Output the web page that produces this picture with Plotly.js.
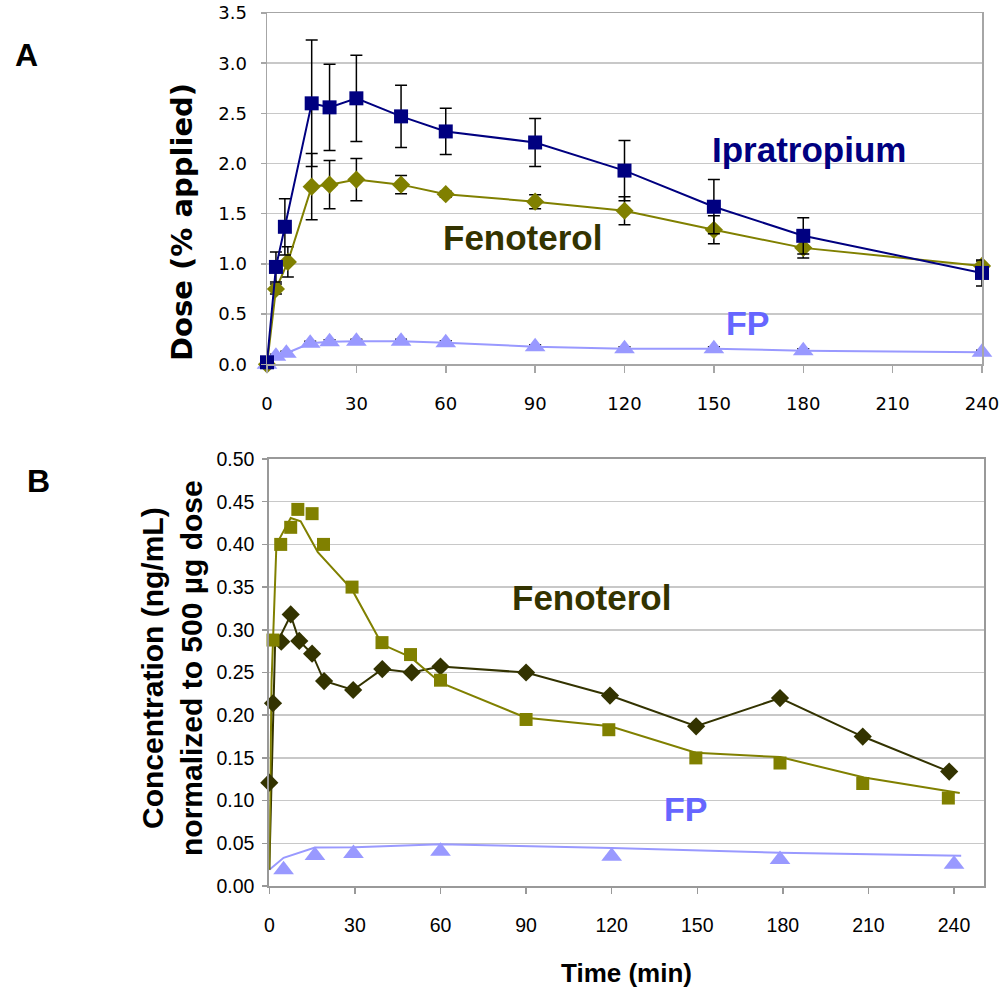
<!DOCTYPE html>
<html>
<head>
<meta charset="utf-8">
<script src="https://cdn.plot.ly/plotly-3.0.1.min.js"></script>
<style>html,body{margin:0;padding:0;background:#fff;}#chart{width:1003px;height:991px;}</style>
</head>
<body>
<div id="chart"></div>
<script>
// ---------- Panel A data: dose (% applied) ----------
var timeIpraA = [0, 3, 6, 15, 21, 30, 45, 60, 90, 120, 150, 180, 240];
var ipratropiumA = [0.02, 0.97, 1.37, 2.60, 2.56, 2.65, 2.47, 2.32, 2.21, 1.93, 1.57, 1.28, 0.91];
var ipratropiumErrA = [0, 0.15, 0.28, 0.63, 0.43, 0.43, 0.31, 0.23, 0.24, 0.30, 0.27, 0.18, 0.13];

var timeFenoA = [0, 3, 7, 15, 21, 30, 45, 60, 90, 120, 150, 180, 240];
var fenoterolA = [0.0, 0.75, 1.02, 1.77, 1.79, 1.84, 1.79, 1.695, 1.62, 1.53, 1.34, 1.16, 0.98];
var fenoterolErrA = [0, 0.05, 0.15, 0.33, 0.24, 0.21, 0.09, 0.03, 0.07, 0.14, 0.14, 0.10, 0.05];

var timeFpA = [0, 3, 6.5, 14.5, 21, 30, 45, 60, 90, 120, 150, 180, 240];
var fpA = [0.0, 0.08, 0.11, 0.21, 0.225, 0.23, 0.23, 0.215, 0.175, 0.155, 0.155, 0.135, 0.12];
var fpErrA = [0, 0.02, 0.02, 0.02, 0.02, 0.02, 0.02, 0.02, 0.02, 0.02, 0.02, 0.02, 0.02];

// ---------- Panel B data: plasma concentration ----------
var timeFenoSqB = [1.3, 4, 7.5, 10, 15, 19, 29, 39.5, 49.5, 60, 90, 119, 149.5, 179, 208, 238];
var fenoSqB = [0.288, 0.400, 0.420, 0.441, 0.436, 0.400, 0.350, 0.285, 0.271, 0.241, 0.195, 0.183, 0.150, 0.144, 0.120, 0.103];
var lineFenoSqT = [0, 0.8, 2.5, 7.5, 11, 17, 29, 39.5, 49.5, 60, 90, 119.5, 149.5, 179, 208.5, 242];
var lineFenoSqY = [0.019, 0.24, 0.40, 0.431, 0.427, 0.391, 0.347, 0.283, 0.268, 0.238, 0.197, 0.187, 0.156, 0.151, 0.127, 0.109];

var timeFenoDiB = [0, 1.3, 4.2, 7.5, 10.5, 15, 19.2, 29.4, 39.6, 49.9, 60, 90, 119.4, 149.6, 179, 208, 238.3];
var fenoDiB = [0.121, 0.214, 0.286, 0.318, 0.287, 0.272, 0.240, 0.2295, 0.254, 0.250, 0.257, 0.250, 0.223, 0.187, 0.220, 0.175, 0.134];
var lineFenoDiT = [0, 1.3, 2, 7.5, 10.5, 15, 19.2, 29.4, 39.6, 49.9, 60, 90, 119.4, 149.6, 179, 208, 238.3];
var lineFenoDiY = [0.019, 0.214, 0.28, 0.317, 0.287, 0.272, 0.240, 0.2295, 0.254, 0.250, 0.257, 0.250, 0.223, 0.187, 0.220, 0.175, 0.134];

var timeFpB = [5, 16, 29.5, 60, 120, 179, 240];
var fpB = [0.019, 0.0357, 0.038, 0.0408, 0.0347, 0.031, 0.0256];
var lineFpT = [0, 5, 16, 30, 60, 120, 179, 242.5];
var lineFpY = [0.019, 0.033, 0.045, 0.0455, 0.0488, 0.0445, 0.039, 0.0355];

var xTicks = [0, 30, 60, 90, 120, 150, 180, 210, 240];

// ---------- colours ----------
var NAVY = '#000080', OLIVE = '#808000', DARK = '#333300', LILAC = '#9999FF';

function errBar(arr) {
  return {type: 'data', array: arr, visible: true, color: '#000000', thickness: 1.5, width: 6};
}

var traces = [
  // Panel A
  {x: timeFpA, y: fpA, xaxis: 'x', yaxis: 'y', mode: 'lines+markers', cliponaxis: false,
   line: {color: LILAC, width: 2}, marker: {symbol: 'triangle-up', size: 18, color: LILAC},
   error_y: errBar(fpErrA)},
  {x: timeFenoA, y: fenoterolA, xaxis: 'x', yaxis: 'y', mode: 'lines+markers', cliponaxis: false,
   line: {color: OLIVE, width: 2}, marker: {symbol: 'diamond', size: 14, color: OLIVE},
   error_y: errBar(fenoterolErrA)},
  {x: timeIpraA, y: ipratropiumA, xaxis: 'x', yaxis: 'y', mode: 'lines+markers', cliponaxis: false,
   line: {color: NAVY, width: 2}, marker: {symbol: 'square', size: 14, color: NAVY},
   error_y: errBar(ipratropiumErrA)},
  // Panel B lines
  {x: lineFpT, y: lineFpY, xaxis: 'x2', yaxis: 'y2', mode: 'lines', cliponaxis: false,
   line: {color: LILAC, width: 2}},
  {x: lineFenoDiT, y: lineFenoDiY, xaxis: 'x2', yaxis: 'y2', mode: 'lines', cliponaxis: false,
   line: {color: DARK, width: 2}},
  {x: lineFenoSqT, y: lineFenoSqY, xaxis: 'x2', yaxis: 'y2', mode: 'lines', cliponaxis: false,
   line: {color: OLIVE, width: 2}},
  // Panel B markers
  {x: timeFpB, y: fpB, xaxis: 'x2', yaxis: 'y2', mode: 'markers', cliponaxis: false,
   marker: {symbol: 'triangle-up', size: 18, color: LILAC}},
  {x: timeFenoDiB, y: fenoDiB, xaxis: 'x2', yaxis: 'y2', mode: 'markers', cliponaxis: false,
   marker: {symbol: 'diamond', size: 14, color: DARK}},
  {x: timeFenoSqB, y: fenoSqB, xaxis: 'x2', yaxis: 'y2', mode: 'markers', cliponaxis: false,
   marker: {symbol: 'square', size: 13, color: OLIVE}}
];

// pixel helpers (plot area: x 267..984, y 13..886)
var L = 267, R = 19, T = 13, B = 105, W = 1003, H = 991;
var PW = W - L - R, PH = H - T - B;
function px(x) { return (x - L) / PW; }
function py(y) { return (H - B - y) / PH; }

var wide = '"DejaVu Sans", Verdana, sans-serif';
var arial = '"Liberation Sans", Arial, sans-serif';

var axA = {showline: true, linecolor: '#a6a6a6', linewidth: 1.5, mirror: true,
           ticks: 'outside', tickcolor: '#a6a6a6', tickwidth: 1.5, zeroline: false,
           ticklabeloverflow: 'allow',
           tickfont: {family: wide, size: 18, color: '#000'}};
var axB = {showline: true, linecolor: '#999999', linewidth: 2, mirror: true,
           ticks: 'outside', tickcolor: '#999999', tickwidth: 1.5, zeroline: false,
           ticklabeloverflow: 'allow',
           tickfont: {family: arial, size: 19.5, color: '#000'}};

var layout = {
  width: W, height: H,
  margin: {l: L, r: R, t: T, b: B, pad: 0},
  paper_bgcolor: '#ffffff', plot_bgcolor: '#ffffff',
  showlegend: false,
  xaxis: Object.assign({}, axA, {domain: [0, 715 / PW], range: [0, 240], tickvals: xTicks,
    ticklen: 7, ticklabelstandoff: 16, showgrid: false, anchor: 'y'}),
  yaxis: Object.assign({}, axA, {domain: [py(364.3), 1], range: [0, 3.5], dtick: 0.5, tickformat: '.1f',
    ticklen: 5, ticklabelstandoff: 10, showgrid: true, gridcolor: '#c8c8c8', gridwidth: 1.5, anchor: 'x'}),
  xaxis2: Object.assign({}, axB, {domain: [px(269.3), 1], range: [0, 250.5], tickvals: xTicks,
    ticklen: 6, ticklabelstandoff: 15, showgrid: false, anchor: 'y2'}),
  yaxis2: Object.assign({}, axB, {domain: [0, py(459)], range: [0, 0.5], dtick: 0.05, tickformat: '.2f',
    ticklen: 5, ticklabelstandoff: 4, showgrid: true, gridcolor: '#c8c8c8', gridwidth: 1.5, anchor: 'x2'}),
  annotations: [
    {text: '<b>A</b>', xref: 'paper', yref: 'paper', x: px(26), y: py(55), showarrow: false,
     xanchor: 'center', yanchor: 'middle', font: {family: arial, size: 32, color: '#000'}},
    {text: '<b>B</b>', xref: 'paper', yref: 'paper', x: px(38), y: py(481), showarrow: false,
     xanchor: 'center', yanchor: 'middle', font: {family: arial, size: 32, color: '#000'}},
    {text: '<b>Dose (% applied)</b>', xref: 'paper', yref: 'paper', x: px(182), y: py(222), showarrow: false,
     textangle: -90, xanchor: 'center', yanchor: 'middle', font: {family: wide, size: 29, color: '#000'}},
    {text: '<b>Concentration (ng/mL)<br>normalized to 500 µg dose</b>', xref: 'paper', yref: 'paper',
     x: px(172), y: py(668), showarrow: false, textangle: -90, xanchor: 'center', yanchor: 'middle',
     font: {family: arial, size: 30, color: '#000'}},
    {text: '<b>Time (min)</b>', xref: 'paper', yref: 'paper', x: px(626), y: py(973), showarrow: false,
     xanchor: 'center', yanchor: 'middle', font: {family: arial, size: 26, color: '#000'}},
    {text: '<b>Ipratropium</b>', xref: 'x', yref: 'y', x: 181.8, y: 2.137, showarrow: false,
     xanchor: 'center', yanchor: 'middle', font: {family: arial, size: 35, color: NAVY}},
    {text: '<b>Fenoterol</b>', xref: 'x', yref: 'y', x: 85.8, y: 1.26, showarrow: false,
     xanchor: 'center', yanchor: 'middle', font: {family: arial, size: 35, color: DARK}},
    {text: '<b>FP</b>', xref: 'x', yref: 'y', x: 161.4, y: 0.41, showarrow: false,
     xanchor: 'center', yanchor: 'middle', font: {family: arial, size: 34, color: '#6666FF'}},
    {text: '<b>Fenoterol</b>', xref: 'x2', yref: 'y2', x: 113.1, y: 0.338, showarrow: false,
     xanchor: 'center', yanchor: 'middle', font: {family: arial, size: 35, color: DARK}},
    {text: '<b>FP</b>', xref: 'x2', yref: 'y2', x: 145.7, y: 0.090, showarrow: false,
     xanchor: 'center', yanchor: 'middle', font: {family: arial, size: 34, color: '#6666FF'}}
  ]
};

Plotly.newPlot('chart', traces, layout, {staticPlot: true, displayModeBar: false});
</script>
</body>
</html>
